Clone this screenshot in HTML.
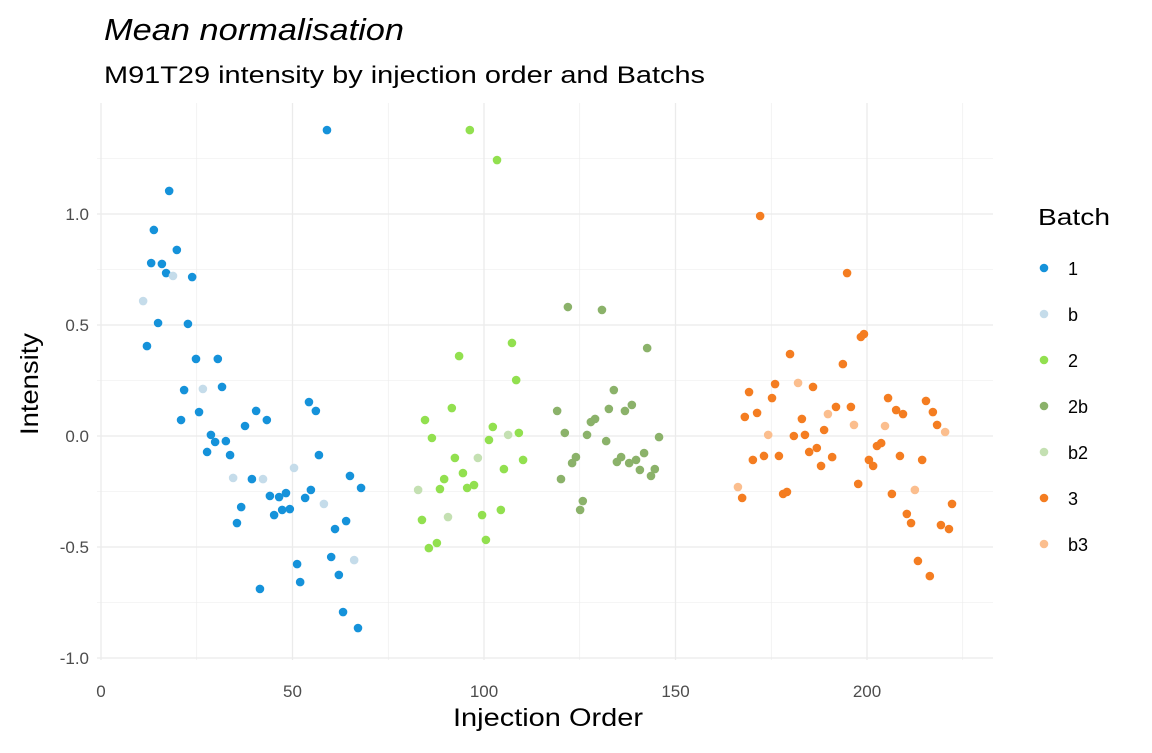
<!DOCTYPE html>
<html><head><meta charset="utf-8"><style>
body{margin:0;background:#fff;}
svg text{font-family:"Liberation Sans",Arial,sans-serif;}
</style></head><body>
<svg id="chart" width="1152" height="748" xmlns="http://www.w3.org/2000/svg">
<rect width="1152" height="748" fill="#fff"/>
<text x="104" y="40" font-size="31" font-style="italic" fill="#000" textLength="300" lengthAdjust="spacingAndGlyphs">Mean normalisation</text>
<text x="104" y="83" font-size="24" fill="#000" textLength="601" lengthAdjust="spacingAndGlyphs">M91T29 intensity by injection order and Batchs</text>
<g id="grid"></g>
<g id="points"></g>
<g id="ticks"></g>
<text x="548" y="726" font-size="25" text-anchor="middle" fill="#000" textLength="190" lengthAdjust="spacingAndGlyphs">Injection Order</text>
<text transform="translate(38,384) rotate(-90)" font-size="25" text-anchor="middle" fill="#000" textLength="102" lengthAdjust="spacingAndGlyphs">Intensity</text>
<g id="legend">
<text x="1038" y="225" font-size="23" fill="#000" textLength="72" lengthAdjust="spacingAndGlyphs">Batch</text>
</g>
</svg>
<script>
const batches=["1","b","2","2b","b2","3","b3"];
const colors=["#1592da","#c5dcea","#92e04f","#8bb26a","#c4e0b2","#f47d21","#fbbe8e"];
const xTicks=[0,50,100,150,200];
const yTicks=[-1.0,-0.5,0.0,0.5,1.0];
const yTickLabels=["-1.0","-0.5","0.0","0.5","1.0"];
const x1=[59.0,17.8,13.8,19.8,13.1,15.9,17.0,23.8,14.9,22.7,12.0,24.8,30.5,21.7,31.6,20.9,25.6,40.5,43.3,37.6,54.3,56.1,28.7,29.8,32.6,27.7,33.7,56.9,39.4,65.0,67.9,44.1,46.5,48.3,54.8,53.3,36.6,45.2,47.3,49.3,35.5,64.0,61.1,60.1,51.2,62.1,52.0,41.5,63.2,67.1];
const y1=[1.378,1.104,0.928,0.838,0.779,0.775,0.734,0.716,0.509,0.505,0.405,0.347,0.347,0.207,0.221,0.072,0.108,0.113,0.072,0.045,0.153,0.113,0.005,-0.027,-0.023,-0.072,-0.086,-0.086,-0.194,-0.180,-0.234,-0.270,-0.275,-0.257,-0.243,-0.279,-0.320,-0.356,-0.333,-0.329,-0.392,-0.383,-0.419,-0.545,-0.577,-0.626,-0.658,-0.689,-0.793,-0.865];
const xb=[18.8,11.0,26.6,34.5,42.3,50.4,58.2,66.1];
const yb=[0.721,0.608,0.212,-0.189,-0.194,-0.144,-0.306,-0.559];
const x2=[96.3,103.4,93.5,107.3,108.4,91.6,84.6,86.4,102.3,101.3,109.1,92.4,110.2,94.5,89.6,105.2,88.5,95.6,97.4,83.8,99.5,104.4,87.7,85.6,100.5];
const y2=[1.378,1.243,0.360,0.419,0.252,0.126,0.072,-0.009,0.041,-0.018,0.014,-0.099,-0.108,-0.167,-0.194,-0.149,-0.239,-0.234,-0.221,-0.378,-0.356,-0.333,-0.482,-0.505,-0.468];
const x2b=[121.9,130.8,142.6,133.9,119.1,132.6,136.8,138.6,127.9,129.0,121.1,126.9,145.7,131.9,124.0,123.0,135.8,134.7,137.9,139.7,141.8,140.7,144.6,143.6,120.1,125.8,125.1];
const y2b=[0.581,0.568,0.396,0.207,0.113,0.122,0.113,0.140,0.063,0.077,0.014,0.005,-0.005,-0.023,-0.095,-0.122,-0.095,-0.117,-0.122,-0.108,-0.077,-0.153,-0.149,-0.180,-0.194,-0.293,-0.333];
const xb2=[82.8,90.6,98.4,106.3];
const yb2=[-0.243,-0.365,-0.099,0.005];
const x3=[172.1,194.8,199.2,198.4,179.9,193.7,176.0,169.2,185.9,175.2,171.3,168.1,191.9,195.8,183.0,188.8,180.9,183.8,205.5,207.6,209.4,215.4,217.2,218.3,202.6,203.7,184.9,186.9,170.2,173.1,177.0,190.9,188.0,200.5,201.6,208.6,214.4,197.7,178.1,179.1,167.4,206.5,210.4,211.5,222.2,219.3,221.4,213.3,216.4];
const y3=[0.991,0.734,0.459,0.446,0.369,0.324,0.234,0.198,0.221,0.171,0.104,0.086,0.131,0.131,0.077,0.027,0.0,0.005,0.171,0.117,0.099,0.158,0.108,0.050,-0.045,-0.032,-0.072,-0.054,-0.108,-0.090,-0.090,-0.095,-0.135,-0.108,-0.135,-0.090,-0.108,-0.216,-0.261,-0.252,-0.279,-0.261,-0.351,-0.392,-0.306,-0.401,-0.419,-0.563,-0.631];
const xb3=[182.0,174.2,189.8,196.6,204.7,220.4,166.3,212.5];
const yb3=[0.239,0.005,0.099,0.050,0.045,0.018,-0.230,-0.243];

const NS="http://www.w3.org/2000/svg";
const sx=v=>101+v*3.83;
const sy=v=>436-v*222;
const L=97,R=993,T=103,B=660;
function mk(tag,attrs,parent){const e=document.createElementNS(NS,tag);for(const k in attrs)e.setAttribute(k,attrs[k]);parent.appendChild(e);return e;}
const grid=document.getElementById('grid');
for(let v=-1.0;v<=1.26;v+=0.25){
  const major=Math.abs(v*2-Math.round(v*2))<1e-6;
  const ln=mk('line',{x1:L,x2:R,y1:sy(v),y2:sy(v),stroke:'#ebebeb','stroke-width':major?1.3:0.6},grid);
  
  
}
for(let v=0;v<=225;v+=25){
  const major=v%50===0;
  const ln=mk('line',{x1:sx(v),x2:sx(v),y1:T,y2:B,stroke:'#ebebeb','stroke-width':major?1.3:0.6},grid);
  
  
}
const ticks=document.getElementById('ticks');
xTicks.forEach(v=>{
  const t=mk('text',{x:sx(v),y:697,'font-size':17,fill:'#4d4d4d','text-anchor':'middle'},ticks);
  t.textContent=String(v);
  
  
});
yTicks.forEach((v,i)=>{
  const t=mk('text',{x:89,y:sy(v)+6,'font-size':17,fill:'#4d4d4d','text-anchor':'end'},ticks);
  t.textContent=yTickLabels[i];
  
  
});
const series=[[x1,y1],[xb,yb],[x2,y2],[x2b,y2b],[xb2,yb2],[x3,y3],[xb3,yb3]];
const pts=document.getElementById('points');
series.forEach((s,si)=>{
  s[0].forEach((xv,i)=>{
    const c=mk('circle',{cx:sx(xv),cy:sy(s[1][i]),r:4.3,fill:colors[si]},pts);
    
    
  });
});
const leg=document.getElementById('legend');
batches.forEach((b,i)=>{
  const y=268+i*46;
  const c=mk('circle',{cx:1044,cy:y,r:4.3,fill:colors[i]},leg);
  
  
  const t=mk('text',{x:1068,y:y+7,'font-size':18,fill:'#000'},leg);
  t.textContent=b;
  
  
});
</script>
</body></html>
